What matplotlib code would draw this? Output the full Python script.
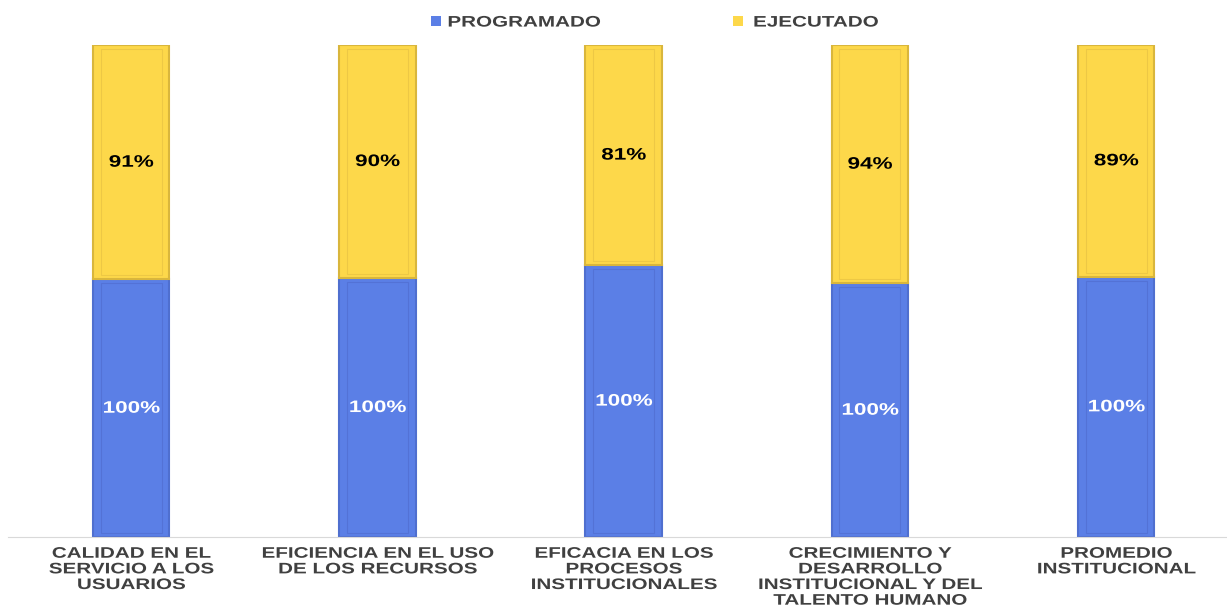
import matplotlib
matplotlib.use("Agg")
import matplotlib.pyplot as plt
from matplotlib.patches import Patch
from matplotlib.patheffects import AbstractPathEffect
from matplotlib.transforms import Affine2D
import numpy as np

categories = [
    "CALIDAD EN EL\nSERVICIO A LOS\nUSUARIOS",
    "EFICIENCIA EN EL USO\nDE LOS RECURSOS",
    "EFICACIA EN LOS\nPROCESOS\nINSTITUCIONALES",
    "CRECIMIENTO Y\nDESARROLLO\nINSTITUCIONAL Y DEL\nTALENTO HUMANO",
    "PROMEDIO\nINSTITUCIONAL",
]
programado = [100, 100, 100, 100, 100]
ejecutado = [91, 90, 81, 94, 89]
series_names = ["PROGRAMADO", "EJECUTADO"]

plt.rcParams['font.family'] = ['Liberation Sans', 'DejaVu Sans']

blue = "#5B7FE6"
yellow = "#FDD84A"


class StretchX(AbstractPathEffect):
    """Widen glyphs horizontally about each line's centre (text stays text)."""
    def __init__(self, sx=1.35):
        super().__init__()
        self.sx = sx

    def draw_path(self, renderer, gc, tpath, affine, rgbFace=None):
        v = tpath.vertices
        if len(v):
            cx = (v[:, 0].min() + v[:, 0].max()) / 2
        else:
            cx = 0
        t = Affine2D().translate(-cx, 0).scale(self.sx, 1).translate(cx, 0) + affine
        renderer.draw_path(gc, tpath, t, rgbFace)


stretch = [StretchX(1.35)]

fig = plt.figure(figsize=(12.27, 6.06), dpi=100)
ax = fig.add_axes([8/1227, (606-537)/606, 1219/1227, (537-45)/606])

x = np.arange(len(categories))
prog = np.array(programado, float)
ejec = np.array(ejecutado, float)
tot = prog + ejec
pb = prog / tot
pe = ejec / tot
w = 0.31

ax.bar(x, pb, width=w, color=blue, edgecolor="#4F6FCF", linewidth=1.5)
ax.bar(x, pe, bottom=pb, width=w, color=yellow, edgecolor="#D9B63C", linewidth=1.5)
# inner bevel lines
ax.bar(x, pb - 0.016, bottom=0.008, width=w * 0.8, fill=False, edgecolor="#5372D6", linewidth=0.8)
ax.bar(x, pe - 0.016, bottom=pb + 0.008, width=w * 0.8, fill=False, edgecolor="#EDC845", linewidth=0.8)

for i in range(len(x)):
    ax.text(x[i], pb[i] / 2, f"{programado[i]}%", ha="center", va="center",
            color="white", fontsize=12, fontweight="bold", path_effects=stretch)
    ax.text(x[i], pb[i] + pe[i] / 2, f"{ejecutado[i]}%", ha="center", va="center",
            color="black", fontsize=12, fontweight="bold", path_effects=stretch)

ax.set_xlim(-0.5, 4.45)
ax.set_ylim(0, 1)
ax.set_xticks(x)
ax.set_xticklabels(categories, fontsize=11, fontweight="bold", color="#404040", linespacing=1.15)
for lab in ax.get_xticklabels():
    lab.set_path_effects(stretch)
ax.tick_params(axis="x", length=0, pad=7)
ax.set_yticks([])
for s in ["top", "right", "left"]:
    ax.spines[s].set_visible(False)
ax.spines["bottom"].set_color("#D9D9D9")

handles = [Patch(facecolor=blue, edgecolor="none"), Patch(facecolor=yellow, edgecolor="none")]
leg = fig.legend(handles, series_names, loc="upper center", bbox_to_anchor=(0.527, 0.997), ncol=2,
                 frameon=False, handlelength=0.65, handleheight=0.65, handletextpad=1.7,
                 columnspacing=10, prop={"weight": "bold", "size": 11})
for t in leg.get_texts():
    t.set_color("#404040")
    t.set_path_effects(stretch)

fig.savefig("out.png", dpi=100)
